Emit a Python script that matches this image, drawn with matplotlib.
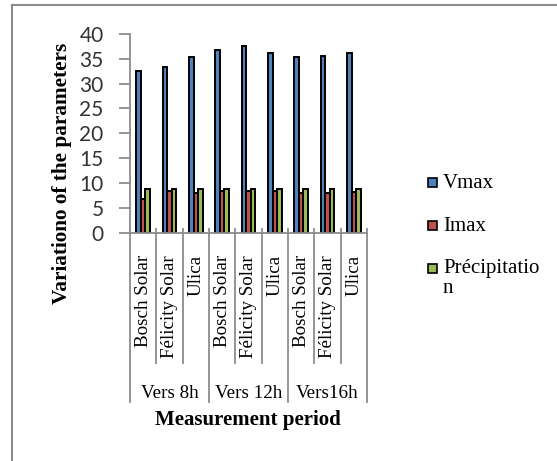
import numpy as np
import matplotlib
matplotlib.use("Agg")
import matplotlib.pyplot as plt
from matplotlib.patches import Rectangle
from matplotlib.lines import Line2D

# data
products = ["Bosch Solar", "Félicity Solar", "Ulica"] * 3
periods = ["Vers 8h", "Vers 12h", "Vers16h"]
vmax = [32.6, 33.3, 35.4, 36.7, 37.5, 36.1, 35.4, 35.6, 36.1]
imax = [6.8, 8.4, 8.0, 8.4, 8.4, 8.4, 7.9, 7.9, 8.2]
precip = [8.7, 8.7, 8.7, 8.7, 8.7, 8.7, 8.7, 8.7, 8.7]
series = ["Vmax", "Imax", "Précipitation"]
colors = ["#4F81BD", "#C0504D", "#9BBB59"]

W, H = 557, 461
def fx(x):
    return x / W
def fy(y):
    return 1 - y / H

serif = "Liberation Serif"
gray = "#8c8c8c"

fig = plt.figure(figsize=(W / 100, H / 100), dpi=100)
ax_h = 198.5
ax = fig.add_axes([fx(130), fy(232.5), 237 / W, ax_h / H])

x = np.arange(len(products))
bw = 0.17
for k, (vals, c) in enumerate(zip([vmax, imax, precip], colors)):
    ax.bar(x + (k - 1) * bw, vals, width=bw, color=c, edgecolor="black", linewidth=1.4)

ax.set_xlim(-0.5, 8.5)
ax.set_ylim(0, 40)
ax.set_xticks([])
ax.set_yticks(range(0, 41, 5))
ax.tick_params(axis="y", length=8, width=1.3, color=gray, pad=11,
               labelsize=15, labelcolor="#333333")
for lab in ax.get_yticklabels():
    lab.set_fontfamily("Lato")
for s in ["top", "right"]:
    ax.spines[s].set_visible(False)
for s in ["left", "bottom"]:
    ax.spines[s].set_color(gray)
    ax.spines[s].set_linewidth(1.3)

# multi-level category axis
tr = ax.get_xaxis_transform()
for b in np.arange(-0.5, 9, 1.0):
    bottom = 402 if b in (-0.5, 2.5, 5.5, 8.5) else 363
    ax.add_line(Line2D([b, b], [4 / ax_h, -(bottom - 232.5) / ax_h], transform=tr,
                       color=gray, lw=1.3, clip_on=False))
for i, name in enumerate(products):
    ax.text(i, -22.5 / ax_h, name, transform=tr, rotation=90, ha="center", va="top",
            fontsize=13.7, family=serif)
for j, p in enumerate(periods):
    ax.text(3 * j + 1, -(393 - 232.5) / ax_h, p, transform=tr, ha="center", va="center",
            fontsize=13.7, family=serif)

fig.text(fx(248), fy(420), "Measurement period", ha="center", va="center",
         fontsize=15, fontweight="bold", family=serif)
fig.text(fx(62), fy(173), "Variationo of the parameters", ha="center", va="center",
         rotation=90, fontsize=15.3, fontweight="bold", family=serif)

# legend
leg_y = [183, 226, 268]
for name, c, yy in zip(series, colors, leg_y):
    fig.add_artist(Rectangle((fx(428), fy(yy + 4.5)), 9 / W, 9 / H, transform=fig.transFigure,
                             facecolor=c, edgecolor="black", linewidth=1.2))
    label = name if len(name) < 12 else name[:12] + "\n" + name[12:]
    fig.text(fx(443), fy(yy - 9), label, ha="left", va="top", fontsize=15,
             family=serif, linespacing=1.1)

# outer chart frame
fig.add_artist(Line2D([fx(12), fx(12)], [fy(5), 0], transform=fig.transFigure, color=gray, lw=1.5))
fig.add_artist(Line2D([fx(12), 1], [fy(5), fy(5)], transform=fig.transFigure, color=gray, lw=1.5))

fig.savefig("out.png", dpi=100, facecolor="white")
